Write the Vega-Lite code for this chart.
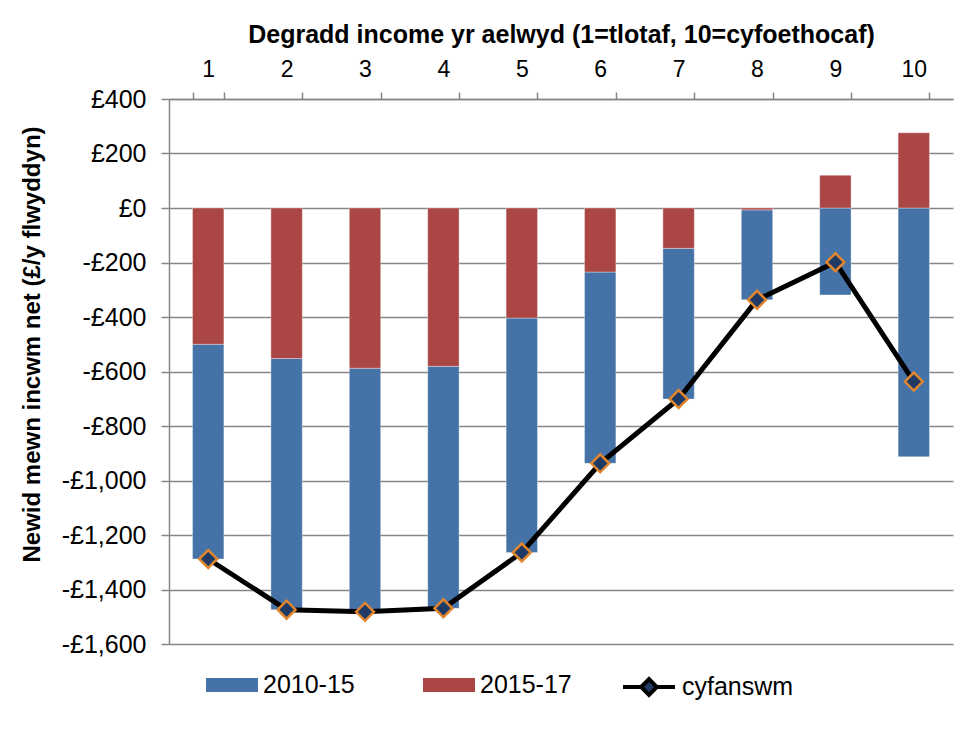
{
  "$schema": "https://vega.github.io/schema/vega-lite/v6.json",
  "width": 784,
  "height": 545,
  "autosize": "none",
  "padding": {"left": 169, "top": 99, "right": 18, "bottom": 89},
  "background": "white",
  "config": {
    "view": {"stroke": null},
    "font": "Liberation Sans",
    "axis": {
      "labelColor": "black",
      "titleColor": "black",
      "domainColor": "#868686",
      "tickColor": "#868686",
      "gridColor": "#868686",
      "domainWidth": 1.5,
      "tickWidth": 1.5,
      "gridWidth": 1.5
    }
  },
  "data": {
    "values": [
      {"decile": 1, "series": "2010-15", "value": -788},
      {"decile": 2, "series": "2010-15", "value": -922},
      {"decile": 3, "series": "2010-15", "value": -894},
      {"decile": 4, "series": "2010-15", "value": -888},
      {"decile": 5, "series": "2010-15", "value": -860},
      {"decile": 6, "series": "2010-15", "value": -702},
      {"decile": 7, "series": "2010-15", "value": -553},
      {"decile": 8, "series": "2010-15", "value": -330},
      {"decile": 9, "series": "2010-15", "value": -319},
      {"decile": 10, "series": "2010-15", "value": -913},
      {"decile": 1, "series": "2015-17", "value": -500},
      {"decile": 2, "series": "2015-17", "value": -552},
      {"decile": 3, "series": "2015-17", "value": -588},
      {"decile": 4, "series": "2015-17", "value": -581},
      {"decile": 5, "series": "2015-17", "value": -404},
      {"decile": 6, "series": "2015-17", "value": -235},
      {"decile": 7, "series": "2015-17", "value": -148},
      {"decile": 8, "series": "2015-17", "value": -7},
      {"decile": 9, "series": "2015-17", "value": 120},
      {"decile": 10, "series": "2015-17", "value": 276},
      {"decile": 1, "series": "cyfanswm", "value": -1288},
      {"decile": 2, "series": "cyfanswm", "value": -1474},
      {"decile": 3, "series": "cyfanswm", "value": -1482},
      {"decile": 4, "series": "cyfanswm", "value": -1469},
      {"decile": 5, "series": "cyfanswm", "value": -1264},
      {"decile": 6, "series": "cyfanswm", "value": -937},
      {"decile": 7, "series": "cyfanswm", "value": -701},
      {"decile": 8, "series": "cyfanswm", "value": -337},
      {"decile": 9, "series": "cyfanswm", "value": -199},
      {"decile": 10, "series": "cyfanswm", "value": -637}
    ]
  },
  "encoding": {
    "x": {
      "field": "decile",
      "type": "ordinal",
      "scale": {"paddingInner": 0.6, "paddingOuter": 0.3},
      "axis": {
        "orient": "top",
        "title": "Degradd income yr aelwyd (1=tlotaf, 10=cyfoethocaf)",
        "titleFontSize": 25,
        "titleFontWeight": "bold",
        "titleY": -57,
        "titleBaseline": "alphabetic",
        "labelAngle": 0,
        "labelFontSize": 23,
        "labelPadding": 11,
        "tickBand": "extent",
        "tickSize": 7,
        "grid": false
      }
    }
  },
  "layer": [
    {
      "transform": [{"filter": "datum.series !== 'cyfanswm'"}],
      "mark": {"type": "bar", "stroke": "white", "strokeOpacity": 0.35, "strokeWidth": 1},
      "encoding": {
        "y": {
          "field": "value",
          "type": "quantitative",
          "stack": "zero",
          "scale": {"domain": [-1600, 400], "nice": false, "zero": false},
          "axis": {
            "title": "Newid mewn incwm net (£/y flwyddyn)",
            "titleFontSize": 24,
            "titleFontWeight": "bold",
            "titleAngle": -90,
            "titleX": -137,
            "titleY": 245,
            "titleAlign": "center",
            "titleBaseline": "middle",
            "values": [-1600, -1400, -1200, -1000, -800, -600, -400, -200, 0, 200, 400],
            "labelExpr": "(datum.value < 0 ? '-' : '') + '£' + format(abs(datum.value), ',')",
            "labelFontSize": 25,
            "labelPadding": 15,
            "tickSize": 8,
            "grid": true
          }
        },
        "color": {
          "field": "series",
          "type": "nominal",
          "scale": {"domain": ["2010-15", "2015-17"], "range": ["#4572A7", "#AA4643"]},
          "legend": {
            "orient": "none",
            "legendX": 37,
            "legendY": 560,
            "direction": "horizontal",
            "title": null,
            "padding": 0,
            "symbolType": "M-1,-0.27H1V0.27H-1Z",
            "symbolSize": 2704,
            "symbolStrokeWidth": 0,
            "labelFontSize": 25,
            "labelColor": "black",
            "labelOffset": 5,
            "columnPadding": 68
          }
        },
        "order": {"field": "series", "sort": "descending"}
      }
    },
    {
      "transform": [{"filter": "datum.series === 'cyfanswm'"}],
      "mark": {"type": "line", "strokeWidth": 5},
      "encoding": {
        "y": {"field": "value", "type": "quantitative"},
        "stroke": {
          "field": "series",
          "type": "nominal",
          "scale": {"domain": ["cyfanswm"], "range": ["#000000"]},
          "legend": {
            "orient": "none",
            "legendX": 452,
            "legendY": 560,
            "direction": "horizontal",
            "title": null,
            "padding": 0,
            "symbolType": "M-1,0H-0.3M0.3,0H1M-0.3,0L0,-0.3L0.3,0L0,0.3Z",
            "symbolSize": 2704,
            "symbolStrokeWidth": 4,
            "symbolFillColor": "#1F3A64",
            "labelFontSize": 25,
            "labelColor": "black",
            "labelOffset": 5
          }
        }
      }
    },
    {
      "transform": [{"filter": "datum.series === 'cyfanswm'"}],
      "mark": {"type": "point", "shape": "diamond", "filled": true, "fill": "#1F3A64", "stroke": "#E0862F", "strokeWidth": 2.5, "size": 320, "opacity": 1},
      "encoding": {
        "y": {"field": "value", "type": "quantitative"}
      }
    }
  ]
}
